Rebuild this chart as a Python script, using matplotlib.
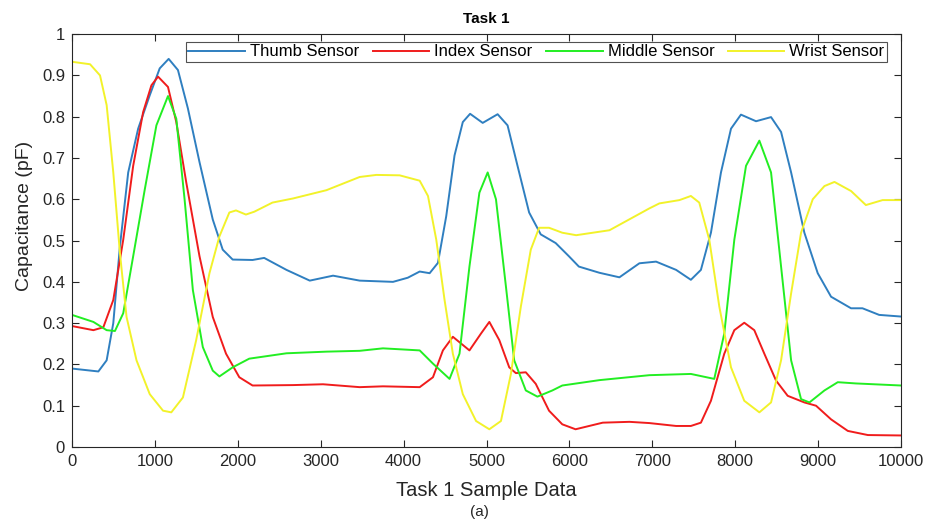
import matplotlib
matplotlib.use("Agg")
import matplotlib.pyplot as plt

plt.rcParams['font.family'] = ['Liberation Sans', 'DejaVu Sans']

# ---- data ----
thumb_x = [0, 318, 418, 498, 578, 678, 798, 938, 1058, 1166, 1278, 1398, 1538, 1698, 1818,
           1938, 2178, 2318, 2587, 2868, 3149, 3470, 3872, 4050, 4194, 4314, 4414, 4514, 4614,
           4714, 4802, 4954, 5134, 5254, 5374, 5514, 5654, 5834, 5994, 6114, 6362, 6603, 6844,
           7045, 7287, 7465, 7586, 7707, 7828, 7949, 8069, 8251, 8432, 8553, 8674, 8834, 8995,
           9156, 9397, 9535, 9736, 10000]
thumb_y = [0.19, 0.183, 0.21, 0.30, 0.486, 0.665, 0.771, 0.852, 0.917, 0.94, 0.913, 0.82,
           0.69, 0.551, 0.478, 0.454, 0.453, 0.458, 0.429, 0.403, 0.415, 0.403, 0.400, 0.41,
           0.425, 0.421, 0.446, 0.559, 0.706, 0.787, 0.807, 0.785, 0.806, 0.779, 0.681, 0.568,
           0.515, 0.494, 0.462, 0.437, 0.422, 0.411, 0.445, 0.449, 0.429, 0.405, 0.429, 0.519,
           0.665, 0.771, 0.805, 0.789, 0.799, 0.763, 0.665, 0.519, 0.421, 0.364, 0.336, 0.336,
           0.32, 0.316]

index_x = [0, 258, 378, 498, 618, 738, 858, 958, 1038, 1158, 1258, 1378, 1538, 1698, 1858,
           2018, 2178, 2667, 3028, 3470, 3751, 4194, 4354, 4474, 4594, 4794, 4934, 5034, 5154,
           5274, 5354, 5474, 5594, 5754, 5914, 6074, 6402, 6724, 6965, 7287, 7465, 7586, 7707,
           7868, 7989, 8109, 8230, 8351, 8492, 8633, 8834, 8975, 9156, 9358, 9600, 10000]
index_y = [0.293, 0.283, 0.29, 0.356, 0.502, 0.681, 0.811, 0.876, 0.897, 0.872, 0.787, 0.641,
           0.462, 0.315, 0.226, 0.169, 0.149, 0.150, 0.152, 0.145, 0.147, 0.145, 0.169, 0.234,
           0.267, 0.234, 0.275, 0.303, 0.259, 0.193, 0.179, 0.181, 0.153, 0.088, 0.055, 0.043,
           0.059, 0.061, 0.058, 0.051, 0.051, 0.059, 0.112, 0.226, 0.283, 0.301, 0.283, 0.226,
           0.161, 0.124, 0.108, 0.10, 0.067, 0.039, 0.029, 0.028]

middle_x = [0, 258, 418, 518, 618, 738, 878, 1018, 1158, 1258, 1358, 1458, 1578, 1698, 1778,
            1938, 2138, 2587, 3069, 3470, 3751, 4194, 4354, 4554, 4674, 4794, 4914, 5014, 5114,
            5234, 5334, 5474, 5614, 5794, 5914, 6362, 6965, 7465, 7747, 7868, 7989, 8130, 8291,
            8432, 8553, 8674, 8794, 8895, 9076, 9237, 9455, 10000]
middle_y = [0.32, 0.303, 0.283, 0.281, 0.324, 0.462, 0.624, 0.779, 0.85, 0.795, 0.60, 0.38,
            0.242, 0.185, 0.171, 0.193, 0.214, 0.227, 0.231, 0.233, 0.239, 0.234, 0.202, 0.165,
            0.226, 0.437, 0.616, 0.665, 0.60, 0.389, 0.21, 0.137, 0.122, 0.137, 0.149, 0.162,
            0.174, 0.177, 0.165, 0.275, 0.502, 0.681, 0.742, 0.665, 0.437, 0.21, 0.116, 0.108,
            0.137, 0.157, 0.154, 0.149]

wrist_x = [0, 218, 338, 418, 498, 578, 658, 778, 938, 1098, 1198, 1338, 1498, 1658, 1778,
           1898, 1978, 2098, 2200, 2418, 2667, 3069, 3470, 3671, 3952, 4194, 4294, 4394, 4494,
           4594, 4714, 4874, 5034, 5174, 5294, 5414, 5534, 5634, 5754, 5914, 6081, 6483, 6965,
           7085, 7327, 7465, 7566, 7687, 7808, 7949, 8109, 8291, 8432, 8553, 8674, 8794, 8935,
           9076, 9197, 9397, 9576, 9777, 10000]
wrist_y = [0.933, 0.927, 0.90, 0.828, 0.665, 0.47, 0.315, 0.21, 0.128, 0.088, 0.084, 0.12,
           0.259, 0.421, 0.51, 0.568, 0.573, 0.563, 0.57, 0.592, 0.602, 0.622, 0.654, 0.659,
           0.658, 0.645, 0.608, 0.502, 0.356, 0.226, 0.128, 0.063, 0.043, 0.063, 0.177, 0.34,
           0.478, 0.531, 0.531, 0.519, 0.513, 0.525, 0.578, 0.590, 0.598, 0.608, 0.592, 0.502,
           0.34, 0.193, 0.112, 0.084, 0.108, 0.21, 0.372, 0.519, 0.60, 0.632, 0.642, 0.62,
           0.586, 0.598, 0.598]

series_names = ["Thumb Sensor", "Index Sensor", "Middle Sensor", "Wrist Sensor"]
series_colors = ["#2f7fc0", "#f01c1c", "#22ee22", "#f2f22a"]

x_ticks = list(range(0, 10001, 1000))
y_ticks = [0, 0.1, 0.2, 0.3, 0.4, 0.5, 0.6, 0.7, 0.8, 0.9, 1]
y_tick_labels = ["0", "0.1", "0.2", "0.3", "0.4", "0.5", "0.6", "0.7", "0.8", "0.9", "1"]

fig = plt.figure(figsize=(9.29, 5.24), dpi=100)
ax = fig.add_axes([0.0775, 0.1469, 0.8924, 0.788])

data = [(thumb_x, thumb_y), (index_x, index_y), (middle_x, middle_y), (wrist_x, wrist_y)]
for (xs, ys), name, col in zip(data, series_names, series_colors):
    ax.plot(xs, ys, color=col, lw=1.4, label=name, solid_joinstyle='round')

ax.set_xlim(0, 10000)
ax.set_ylim(0, 1)
ax.set_xticks(x_ticks)
ax.set_xticklabels([str(t) for t in x_ticks])
ax.set_yticks(y_ticks)
ax.set_yticklabels(y_tick_labels)
ax.tick_params(direction='in', top=True, right=True, length=5, labelsize=12,
               colors='#262626', pad=5)
for sp in ax.spines.values():
    sp.set_color('#262626')
    sp.set_linewidth(0.8)

ax.set_title("Task 1", fontsize=11, fontweight='bold', pad=8)
ax.set_xlabel("Task 1 Sample Data", fontsize=14.5, color='#262626', labelpad=9)
ax.set_ylabel("Capacitance (pF)", fontsize=14, color='#262626')
ax.yaxis.set_label_coords(-0.047, 0.56)
fig.text(0.5165, 0.022, "(a)", ha='center', va='center', fontsize=11, color='#262626')

leg = ax.legend(loc='upper right', bbox_to_anchor=(0.983, 0.981), borderaxespad=0,
                ncol=4, fontsize=12, frameon=True, fancybox=False,
                handlelength=3.4, columnspacing=0.8, handletextpad=0.3,
                borderpad=0.15, edgecolor='#262626')
leg.get_frame().set_linewidth(0.8)

fig.savefig("out.png", dpi=100)
